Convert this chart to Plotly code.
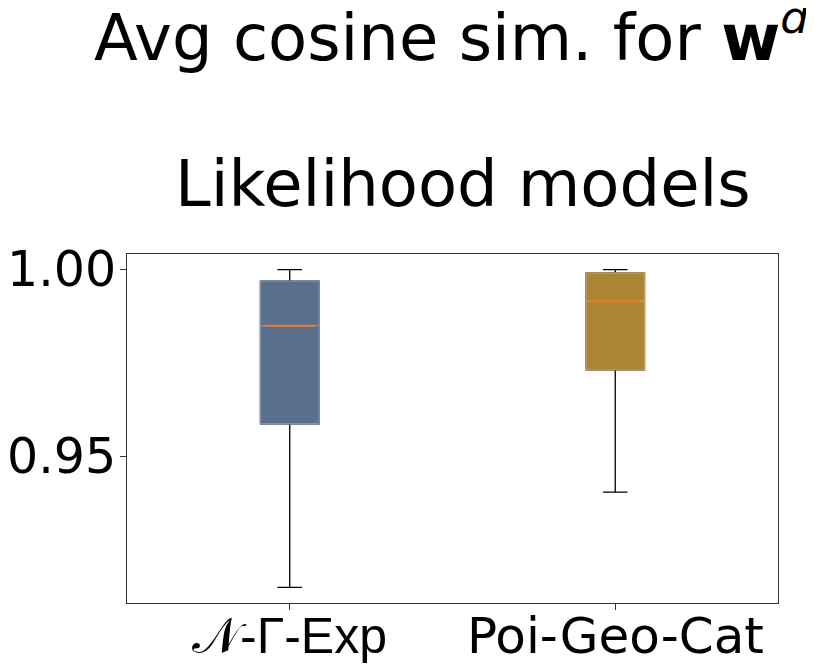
import plotly.graph_objects as go

# Box statistics
models = ["𝒩<span style=\"font-family:'Liberation Sans'\">-Γ-Exp</span>", "Poi-Geo-Cat"]
positions = [1, 2]
q1 = [0.9588, 0.9732]
median = [0.9850, 0.9915]
q3 = [0.9969, 0.9991]
lower = [0.9151, 0.9405]
upper = [1.0000, 1.0000]
y_ticks = [0.95, 1.00]
fills = ["rgb(90,110,142)", "rgb(171,133,52)"]
edges = ["rgb(130,146,172)", "rgb(196,164,100)"]

box_w = 0.18
median_color = "rgb(232,125,35)"

fig = go.Figure()

for i in range(len(models)):
    # body + whiskers in black
    fig.add_trace(go.Box(
        x=[positions[i]], q1=[q1[i]], median=[median[i]], q3=[q3[i]],
        lowerfence=[lower[i]], upperfence=[upper[i]],
        width=box_w, whiskerwidth=0.42,
        line=dict(color="black", width=1.3),
        fillcolor=fills[i], boxpoints=False, hoverinfo="skip",
    ))
    # cover the black outline with a soft edge (no whiskers)
    fig.add_trace(go.Box(
        x=[positions[i]], q1=[q1[i]], median=[median[i]], q3=[q3[i]],
        lowerfence=[q1[i]], upperfence=[q3[i]],
        width=box_w, whiskerwidth=0,
        line=dict(color=edges[i], width=1.4),
        fillcolor=fills[i], boxpoints=False, hoverinfo="skip",
    ))
    # orange median line
    fig.add_trace(go.Scatter(
        x=[positions[i] - box_w / 2 * 0.86, positions[i] + box_w / 2 * 0.86],
        y=[median[i], median[i]],
        mode="lines", line=dict(color=median_color, width=2),
        hoverinfo="skip",
    ))

# tick labels as annotations so they sit close to the axes
annos = [
    dict(text=models[i], xref="x", yref="paper", x=positions[i], y=0,
         yshift=-2, xanchor="center", yanchor="top", showarrow=False,
         font=dict(size=50))
    for i in range(len(models))
]
annos += [
    dict(text=f"{v:.2f}", xref="paper", yref="y", x=0, y=v,
         xshift=-9, xanchor="right", yanchor="middle", showarrow=False,
         font=dict(size=49))
    for v in y_ticks
]
annos += [
    dict(text="Avg cosine sim. for <b>w</b><sup><i>d</i></sup>",
         xref="paper", yref="paper", x=0.4977, y=1.0, yshift=177,
         xanchor="center", yanchor="bottom", showarrow=False,
         font=dict(size=64)),
    dict(text="Likelihood models",
         xref="paper", yref="paper", x=0.516, y=1.0, yshift=31,
         xanchor="center", yanchor="bottom", showarrow=False,
         font=dict(size=64)),
]

# the page body adds an 8px offset, so the figure is 8px smaller
fig.update_layout(
    width=806, height=660,
    margin=dict(l=119, r=36, t=246, b=65),
    paper_bgcolor="white", plot_bgcolor="white",
    showlegend=False,
    font=dict(family="DejaVu Sans", color="black", size=50),
    annotations=annos,
)

fig.update_xaxes(
    range=[0.5, 2.5], tickvals=positions, showticklabels=False,
    showline=True, linecolor="#333", linewidth=1.3, mirror=True,
    ticks="outside", ticklen=6, tickcolor="#333", showgrid=False, zeroline=False,
    automargin=False,
)
fig.update_yaxes(
    range=[0.9109, 1.00415], tickvals=y_ticks, showticklabels=False,
    showline=True, linecolor="#333", linewidth=1.3, mirror=True,
    ticks="outside", ticklen=6, tickcolor="#333", showgrid=False, zeroline=False,
    automargin=False,
)

fig.write_html("out.html")
